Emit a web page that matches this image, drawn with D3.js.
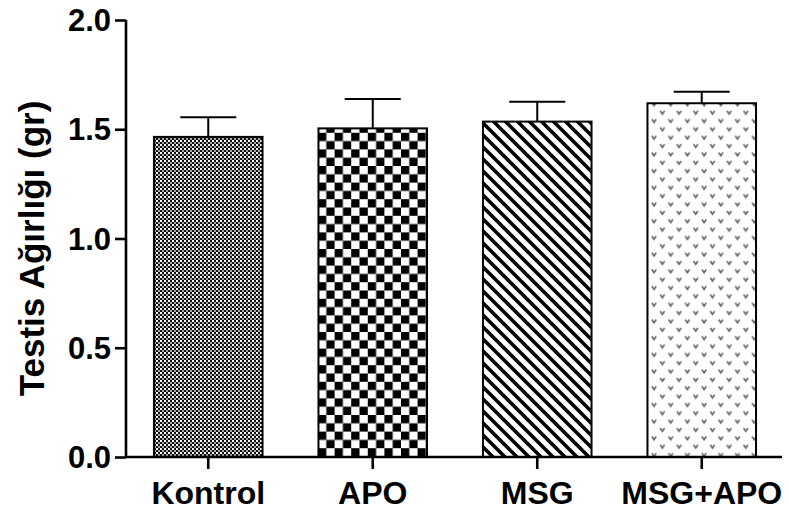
<!DOCTYPE html>
<html><head><meta charset="utf-8">
<script src="https://cdn.jsdelivr.net/npm/d3@7"></script>
<style>body{margin:0;background:#fff}svg{display:block}</style>
</head><body>
<svg id="c" width="789" height="519"></svg>
<script>
const categories = ["Kontrol", "APO", "MSG", "MSG+APO"];
const means = [1.465, 1.504, 1.535, 1.619];
const sems = [0.090, 0.134, 0.091, 0.053];
const yTicks = [0, 0.5, 1.0, 1.5, 2.0];
const yLabel = "Testis Ağırlığı (gr)";
const patterns = ["pKontrol", "pAPO", "pMSG", "pMSGAPO"];

const svg = d3.select("#c");
const font = "'Liberation Sans', Arial, sans-serif";
const defs = svg.append("defs");

// fine checker
let p = defs.append("pattern").attr("id", "pKontrol").attr("patternUnits", "userSpaceOnUse")
  .attr("width", 4).attr("height", 4);
p.append("rect").attr("width", 4).attr("height", 4).attr("fill", "#111");
p.append("rect").attr("x", 0).attr("y", 0).attr("width", 2).attr("height", 2).attr("fill", "#fff");
p.append("rect").attr("x", 2).attr("y", 2).attr("width", 2).attr("height", 2).attr("fill", "#aaa");

// large checker
const s = 8.3;
p = defs.append("pattern").attr("id", "pAPO").attr("patternUnits", "userSpaceOnUse")
  .attr("width", 2 * s).attr("height", 2 * s).attr("x", 318).attr("y", 0);
p.append("rect").attr("width", 2 * s).attr("height", 2 * s).attr("fill", "#fff");
p.append("rect").attr("x", 0).attr("y", 0).attr("width", s).attr("height", s).attr("fill", "#000");
p.append("rect").attr("x", s).attr("y", s).attr("width", s).attr("height", s).attr("fill", "#000");

// diagonal lines "\"
const d = 12;
p = defs.append("pattern").attr("id", "pMSG").attr("patternUnits", "userSpaceOnUse")
  .attr("width", d).attr("height", d);
p.append("rect").attr("width", d).attr("height", d).attr("fill", "#fff");
p.append("path").attr("d", `M-3,-3L${d + 3},${d + 3}M-3,${d - 3}L3,${d + 3}M${d - 3},-3L${d + 3},3`)
  .attr("stroke", "#000").attr("stroke-width", 3.6);

// staggered v marks
const v = 16.7;
p = defs.append("pattern").attr("id", "pMSGAPO").attr("patternUnits", "userSpaceOnUse")
  .attr("width", v).attr("height", v).attr("x", 650).attr("y", 100);
p.append("rect").attr("width", v).attr("height", v).attr("fill", "#fff");
[[4, 4], [4 + v / 2, 4 + v / 2]].forEach(([cx, cy]) => {
  p.append("path").attr("d", `M${cx - 2.2},${cy - 1.6}L${cx},${cy + 1.6}L${cx + 2.2},${cy - 1.6}`)
    .attr("fill", "none").attr("stroke", "#666").attr("stroke-width", 1.6);
});

const x = d3.scaleBand().domain(categories).range([126, 784]).paddingInner(0.34).paddingOuter(0.17);
const y = d3.scaleLinear().domain([0, 2]).range([457, 20]);

// bars
svg.append("g").selectAll("rect").data(categories).join("rect")
  .attr("x", c => x(c))
  .attr("y", (c, i) => y(means[i]))
  .attr("width", x.bandwidth())
  .attr("height", (c, i) => y(0) - y(means[i]))
  .attr("fill", (c, i) => `url(#${patterns[i]})`)
  .attr("stroke", "#000").attr("stroke-width", 2);

// error bars (upper only)
const eb = svg.append("g").attr("stroke", "#000").attr("stroke-width", 2).attr("fill", "none");
categories.forEach((c, i) => {
  const cx = x(c) + x.bandwidth() / 2;
  eb.append("line").attr("x1", cx).attr("x2", cx).attr("y1", y(means[i])).attr("y2", y(means[i] + sems[i]));
  eb.append("line").attr("x1", cx - 28).attr("x2", cx + 28).attr("y1", y(means[i] + sems[i])).attr("y2", y(means[i] + sems[i]));
});

// y axis
const ya = svg.append("g").attr("transform", "translate(126,0)")
  .call(d3.axisLeft(y).tickValues(yTicks).tickFormat(d3.format(".1f")).tickSize(11).tickPadding(4));
ya.select(".domain").attr("stroke-width", 2.6).attr("d", `M0,${y(2)}V${y(0)}`);
ya.selectAll(".tick line").attr("stroke-width", 2.6);
ya.selectAll(".tick text").attr("font-family", font).attr("font-weight", "bold").attr("font-size", 31)
  .attr("fill", "#000").attr("dy", "0.34em");

// x axis
const xa = svg.append("g").attr("transform", `translate(0,${y(0)})`)
  .call(d3.axisBottom(x).tickSize(12).tickPadding(12));
xa.select(".domain").attr("stroke-width", 2.6).attr("d", `M126,0H782`);
xa.selectAll(".tick line").attr("stroke-width", 2.6);
xa.selectAll(".tick text").attr("font-family", font).attr("font-weight", "bold").attr("font-size", 32).attr("fill", "#000");

// y label
svg.append("text")
  .attr("transform", `translate(44,${(y(0) + y(2)) / 2 + 10}) rotate(-90)`)
  .attr("text-anchor", "middle")
  .attr("font-family", font).attr("font-weight", "bold").attr("font-size", 35)
  .text(yLabel);
</script>
</body></html>
